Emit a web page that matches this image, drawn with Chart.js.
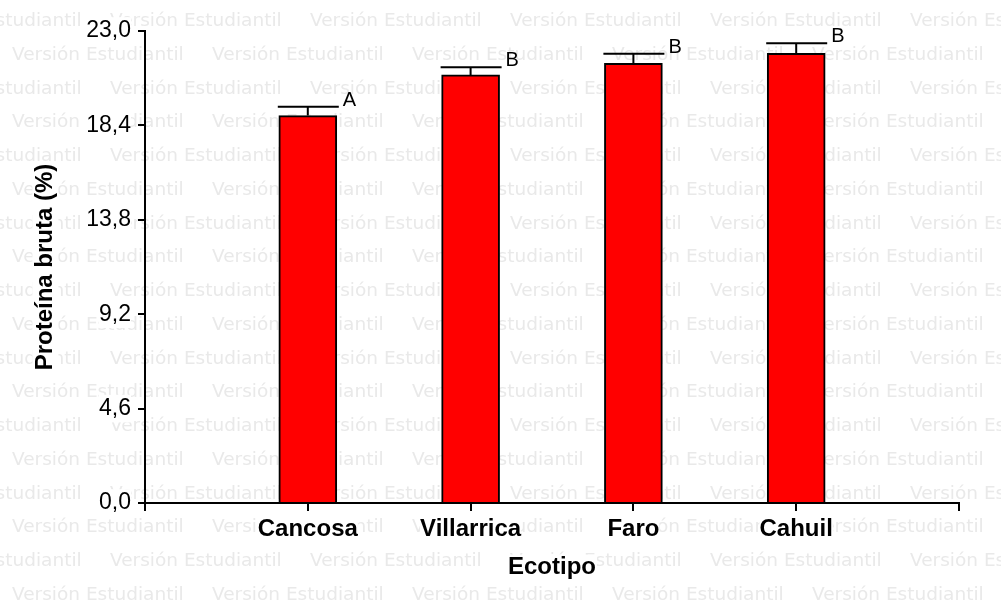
<!DOCTYPE html>
<html>
<head>
<meta charset="utf-8">
<script src="https://cdn.jsdelivr.net/npm/chart.js@4"></script>
<style>
  body { margin: 0; background: #fff; }
  #wrap { width: 1001px; height: 607px; }
</style>
</head>
<body>
<div id="wrap"><canvas id="chart" width="1001" height="607"></canvas></div>
<script>
// data
const ecotipos = ['Cancosa', 'Villarrica', 'Faro', 'Cahuil'];
const proteina = [18.88, 20.86, 21.43, 21.91];
const errorEst = [0.43, 0.37, 0.46, 0.49];
const letras = ['A', 'B', 'B', 'B'];
const yTicks = [0, 4.6, 9.2, 13.8, 18.4, 23.0];
const xTicks = [0, 1, 2, 3, 4, 5];

const FONT = "'Liberation Sans', Arial, sans-serif";
const WM_TEXT = 'Versión Estudiantil';

// grey watermark behind everything, plus white boxes under the axis titles
const watermark = {
    id: 'watermark',
    beforeDraw(chart) {
        const ctx = chart.ctx;
        const w = chart.width, h = chart.height;
        ctx.save();
        ctx.fillStyle = '#fff';
        ctx.fillRect(0, 0, w, h);
        ctx.font = "18.5px 'DejaVu Sans'";
        ctx.fillStyle = '#e9e9e9';
        ctx.textBaseline = 'alphabetic';
        for (let r = 0; r < 18; r++) {
            const y = 26 + r * 33.75;
            const x0 = r % 2 === 0 ? -90 : 12;
            for (let x = x0; x < w; x += 200) ctx.fillText(WM_TEXT, x, y);
        }

        ctx.fillStyle = '#fff';
        ctx.font = 'bold 24px ' + FONT;
        const xs = chart.scales.x, ys = chart.scales.y;
        const xt = xs.options.title, yt = ys.options.title;
        const xw = ctx.measureText(xt.text).width;
        const xcy = xs.bottom - 14.4 - xt.padding.bottom;
        ctx.fillRect((xs.left + xs.right) / 2 - xw / 2 - 1, xcy - 13, xw + 2, 26);
        const yw = ctx.measureText(yt.text).width;
        const ycx = ys.left + 14.4 + yt.padding.top;
        ctx.fillRect(ycx - 13, (ys.top + ys.bottom) / 2 - yw / 2 - 1, 26, yw + 2);
        ctx.restore();
    }
};

// error bars and significance letters
const errorBars = {
    id: 'errorBars',
    afterDatasetsDraw(chart) {
        const ctx = chart.ctx;
        const meta = chart.getDatasetMeta(0);
        const y = chart.scales.y;
        ctx.save();
        ctx.strokeStyle = '#000';
        ctx.lineWidth = 2;
        ctx.fillStyle = '#000';
        ctx.font = '20px ' + FONT;
        ctx.textBaseline = 'alphabetic';
        meta.data.forEach((bar, i) => {
            const yBase = y.getPixelForValue(proteina[i]);
            const yTop = y.getPixelForValue(proteina[i] + errorEst[i]);
            ctx.beginPath();
            ctx.moveTo(bar.x, yBase);
            ctx.lineTo(bar.x, yTop);
            ctx.moveTo(bar.x - 30, yTop);
            ctx.lineTo(bar.x + 31, yTop);
            ctx.stroke();
            ctx.fillText(letras[i], bar.x + 35, yTop - 1);
        });
        ctx.restore();
    }
};

new Chart(document.getElementById('chart'), {
    type: 'bar',
    data: {
        datasets: [{
            data: proteina.map((v, i) => ({ x: i + 1, y: v })),
            backgroundColor: '#ff0000',
            borderColor: '#000',
            borderWidth: 2,
            barThickness: 58
        }]
    },
    options: {
        responsive: false,
        animation: false,
        layout: { padding: { left: 0, top: 31, right: 42, bottom: 0 } },
        plugins: {
            legend: { display: false },
            tooltip: { enabled: false }
        },
        scales: {
            x: {
                type: 'linear',
                min: 0,
                max: 5,
                offset: false,
                z: 1,
                afterBuildTicks: s => { s.ticks = xTicks.map(v => ({ value: v })); },
                afterFit: s => { s.height = 104; },
                grid: { offset: false, drawOnChartArea: false, drawTicks: true, tickLength: 8, color: '#000', lineWidth: 2 },
                border: { display: true, color: '#000', width: 2 },
                ticks: {
                    color: '#000',
                    padding: 4,
                    maxRotation: 0,
                    autoSkip: false,
                    font: { family: FONT, size: 24, weight: 'bold' },
                    showLabelBackdrop: true,
                    backdropColor: '#fff',
                    backdropPadding: 0,
                    callback: v => ecotipos[v - 1] || ''
                },
                title: {
                    display: true,
                    text: 'Ecotipo',
                    color: '#000',
                    font: { family: FONT, size: 24, weight: 'bold' },
                    padding: { top: 0, bottom: 25 }
                }
            },
            y: {
                min: 0,
                max: 23,
                z: 1,
                afterBuildTicks: s => { s.ticks = yTicks.map(v => ({ value: v })); },
                afterFit: s => { s.width = 145; },
                grid: { drawOnChartArea: false, drawTicks: true, tickLength: 7, color: '#000', lineWidth: 2 },
                border: { display: true, color: '#000', width: 2 },
                ticks: {
                    color: '#000',
                    padding: 7,
                    font: { family: FONT, size: 23 },
                    showLabelBackdrop: true,
                    backdropColor: '#fff',
                    backdropPadding: 0,
                    callback: v => v.toFixed(1).replace('.', ',')
                },
                title: {
                    display: true,
                    text: 'Proteína bruta (%)',
                    color: '#000',
                    font: { family: FONT, size: 24, weight: 'bold' },
                    padding: { top: 31, bottom: 0 }
                }
            }
        }
    },
    plugins: [watermark, errorBars]
});
</script>
</body>
</html>
